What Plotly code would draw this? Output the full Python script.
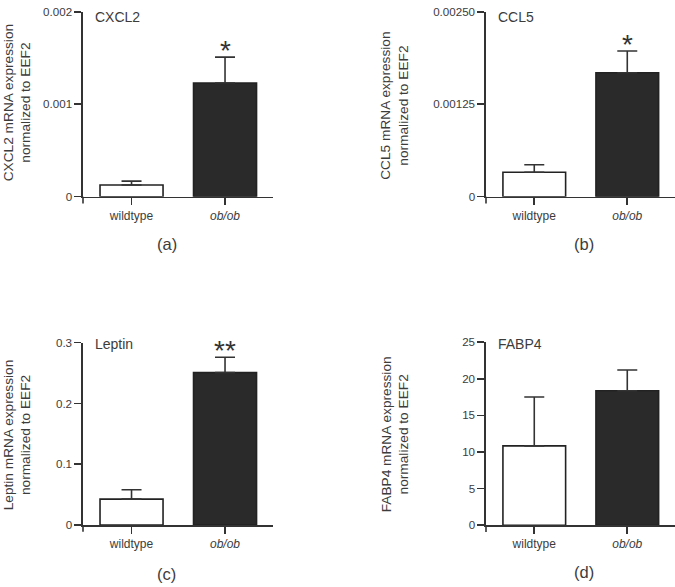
import plotly.graph_objects as go

# ---------------- data ----------------
categories = ["wildtype", "ob/ob"]
category_labels = ["wildtype", "<i>ob/ob</i>"]

genes = ["CXCL2", "CCL5", "Leptin", "FABP4"]
cxcl2_mean = [0.000127, 0.00123]
cxcl2_sem = [0.000042, 0.00028]
ccl5_mean = [0.000331, 0.001676]
ccl5_sem = [0.000102, 0.000294]
leptin_mean = [0.0425, 0.2507]
leptin_sem = [0.0155, 0.0253]
fabp4_mean = [10.84, 18.36]
fabp4_sem = [6.66, 2.84]

cxcl2_ticks = [0, 0.001, 0.002]
cxcl2_ticktext = ["0", "0.001", "0.002"]
ccl5_ticks = [0, 0.00125, 0.0025]
ccl5_ticktext = ["0", "0.00125", "0.00250"]
leptin_ticks = [0, 0.1, 0.2, 0.3]
leptin_ticktext = ["0", "0.1", "0.2", "0.3"]
fabp4_ticks = [0, 5, 10, 15, 20, 25]
fabp4_ticktext = ["0", "5", "10", "15", "20", "25"]

significance = ["*", "*", "**", ""]
panel_letters = ["(a)", "(b)", "(c)", "(d)"]

means = [cxcl2_mean, ccl5_mean, leptin_mean, fabp4_mean]
sems = [cxcl2_sem, ccl5_sem, leptin_sem, fabp4_sem]
ticks = [cxcl2_ticks, ccl5_ticks, leptin_ticks, fabp4_ticks]
ticktexts = [cxcl2_ticktext, ccl5_ticktext, leptin_ticktext, fabp4_ticktext]

# ---------------- layout geometry (pixels) ----------------
W, H = 675, 587
# (left, right, top, bottom) of each plot area in pixels
boxes = [(83, 273, 5, 194), (486, 675, 5, 194),
         (83, 273, 343.3, 529.7), (486, 675, 342.7, 530)]
title_center = [(17.5, 98), (395, 101), (17.5, 437.5), (395, 437)]
letter_pos = [(167, 242), (584, 242), (166, 580), (584, 578)]
gene_shift = [-5, -5, -1.5, -1.5]


def px(x):
    return x / W


def py(y):
    return 1 - y / H


AX = "#333333"
TXT = "#3c3c3c"
FONT = "Liberation Sans, Arial, sans-serif"

fig = go.Figure()
layout = dict(width=W, height=H, margin=dict(l=0, r=0, t=0, b=0),
              plot_bgcolor="white", paper_bgcolor="white",
              showlegend=False, bargap=0, font=dict(family=FONT, color=TXT))
annotations = []
shapes = []

for i in range(4):
    l, r, t, b = boxes[i]
    xa = "xaxis" if i == 0 else f"xaxis{i+1}"
    ya = "yaxis" if i == 0 else f"yaxis{i+1}"
    xr = "x" if i == 0 else f"x{i+1}"
    yr = "y" if i == 0 else f"y{i+1}"
    ymax = ticks[i][-1]
    fig.add_trace(go.Bar(
        x=[0, 1], y=means[i], width=0.674,
        marker=dict(color=["white", "#2a2a2a"], line=dict(color="#222222", width=1.6)),
        error_y=dict(type="data", symmetric=False, array=sems[i],
                     arrayminus=[0, 0], color="#333333", thickness=1.6, width=10),
        xaxis=xr, yaxis=yr, hoverinfo="skip"))
    layout[xa] = dict(domain=[px(l), min(px(r), 1)], range=[-0.519, 1.513],
                      tickvals=[0, 1], ticktext=category_labels,
                      showline=True, linecolor=AX, linewidth=1.6,
                      ticks="outside", ticklen=7, tickwidth=1.6, tickcolor=AX,
                      showgrid=False, zeroline=False, fixedrange=True,
                      tickfont=dict(size=12, color=TXT), anchor=yr)
    layout[ya] = dict(domain=[py(b), min(py(t), 1)], range=[0, ymax],
                      tickvals=ticks[i], ticktext=ticktexts[i],
                      showline=True, linecolor=AX, linewidth=1.6,
                      ticks="outside", ticklen=7, tickwidth=1.6, tickcolor=AX,
                      showgrid=False, zeroline=False, fixedrange=True,
                      tickfont=dict(size=11.6, color=TXT), anchor=xr)
    # y axis line continues below the baseline
    shapes.append(dict(type="line", xref="paper", yref="paper",
                       x0=px(l), x1=px(l), y0=py(b), y1=py(b + 7),
                       line=dict(color=AX, width=1.6)))
    # y-axis title
    cx, cy = title_center[i]
    annotations.append(dict(text=f"{genes[i]} mRNA expression<br>normalized to EEF2",
                            xref="paper", yref="paper", x=px(cx), y=py(cy),
                            xanchor="center", yanchor="middle", textangle=-90,
                            showarrow=False, font=dict(size=13.7, color=TXT)))
    # gene label
    annotations.append(dict(text=genes[i], xref=f"{xr} domain", yref=f"{yr} domain",
                            x=0, y=1, xanchor="left", yanchor="middle",
                            xshift=10, yshift=gene_shift[i], showarrow=False,
                            font=dict(size=14, color=TXT)))
    # significance stars
    if significance[i]:
        annotations.append(dict(text=significance[i], xref=xr, yref=yr,
                                x=1, y=means[i][1] + sems[i][1],
                                xanchor="center", yanchor="bottom", yshift=-11,
                                showarrow=False, font=dict(size=28, color="#333333")))
    # panel letter
    lx, ly = letter_pos[i]
    annotations.append(dict(text=panel_letters[i], xref="paper", yref="paper",
                            x=px(lx), y=py(ly), xanchor="center", yanchor="middle",
                            showarrow=False, font=dict(size=16.5, color=TXT)))

layout["annotations"] = annotations
layout["shapes"] = shapes
fig.update_layout(**layout)
fig.write_html("out.html",
               config={"displayModeBar": False, "staticPlot": True},
               post_script="document.body.style.margin='0';"
                           "document.body.style.overflow='hidden';")
